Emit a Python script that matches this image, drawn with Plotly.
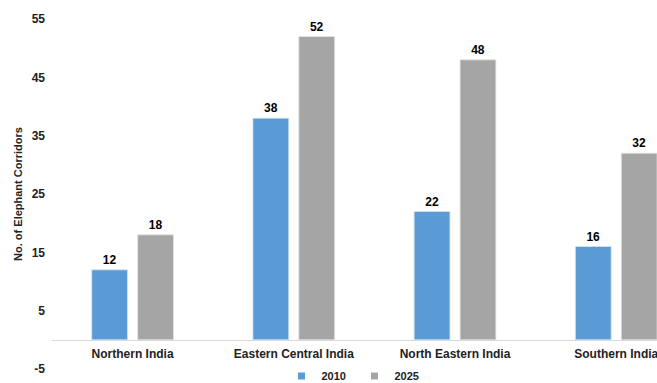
import plotly.graph_objects as go

regions = ["Northern India", "Eastern Central India", "North Eastern India", "Southern India"]
corridors_2010 = [12, 38, 22, 16]
corridors_2025 = [18, 52, 48, 32]
y_ticks = [-5, 5, 15, 25, 35, 45, 55]
series_names = ["2010", "2025"]
series_colors = ["#5B9BD5", "#A5A5A5"]
edge_colors = ["#D6E4F2", "#E4E4E4"]

FONT = "Arial, Liberation Sans, sans-serif"

fig = go.Figure()
for name, values, color, edge in zip(series_names, [corridors_2010, corridors_2025], series_colors, edge_colors):
    fig.add_trace(go.Bar(
        name=name, x=regions, y=values, showlegend=False, legendgroup=name,
        marker=dict(color=color, line=dict(color=edge, width=0.8)),
        text=values, texttemplate="<b>%{text}</b>", textposition="outside", cliponaxis=False,
        textfont=dict(family=FONT, size=12, color="#000000"),
    ))
    # small square legend key
    fig.add_trace(go.Scatter(
        name=f"<b>{name}</b>", x=[None], y=[None], mode="markers", legendgroup=name,
        marker=dict(symbol="square", size=7, color=color),
    ))

fig.update_layout(
    width=657, height=383,
    margin=dict(l=52, r=0, t=19, b=14, autoexpand=False),
    paper_bgcolor="white", plot_bgcolor="white",
    barmode="group", bargap=0.43, bargroupgap=0.22,
    font=dict(family=FONT, size=12, color="#222222"),
    showlegend=True,
    legend=dict(
        orientation="h", x=0.5, xanchor="center", y=-0.02, yanchor="middle",
        font=dict(family=FONT, size=11, color="#222222"),
        itemwidth=30, tracegroupgap=0, entrywidth=28,
    ),
)
fig.update_xaxes(
    range=[-0.5, 3.253], anchor="free", position=5 / 60,
    showline=True, linecolor="#D9D9D9", linewidth=1,
    showgrid=False, zeroline=False, ticks="", ticklabelstandoff=3,
    tickvals=regions, ticktext=[f"<b>{r}</b>" for r in regions],
    tickfont=dict(family=FONT, size=12, color="#222222"),
)
fig.update_yaxes(
    range=[-5, 55], tickvals=y_ticks, ticktext=[f"<b>{v}</b>" for v in y_ticks],
    showgrid=False, zeroline=False, showline=False, ticks="",
    ticklabelstandoff=6,
    tickfont=dict(family=FONT, size=12, color="#222222"),
    title=dict(text="<b>No. of Elephant Corridors</b>", font=dict(family=FONT, size=11, color="#222222"), standoff=6),
)

fig.write_html("out.html")
